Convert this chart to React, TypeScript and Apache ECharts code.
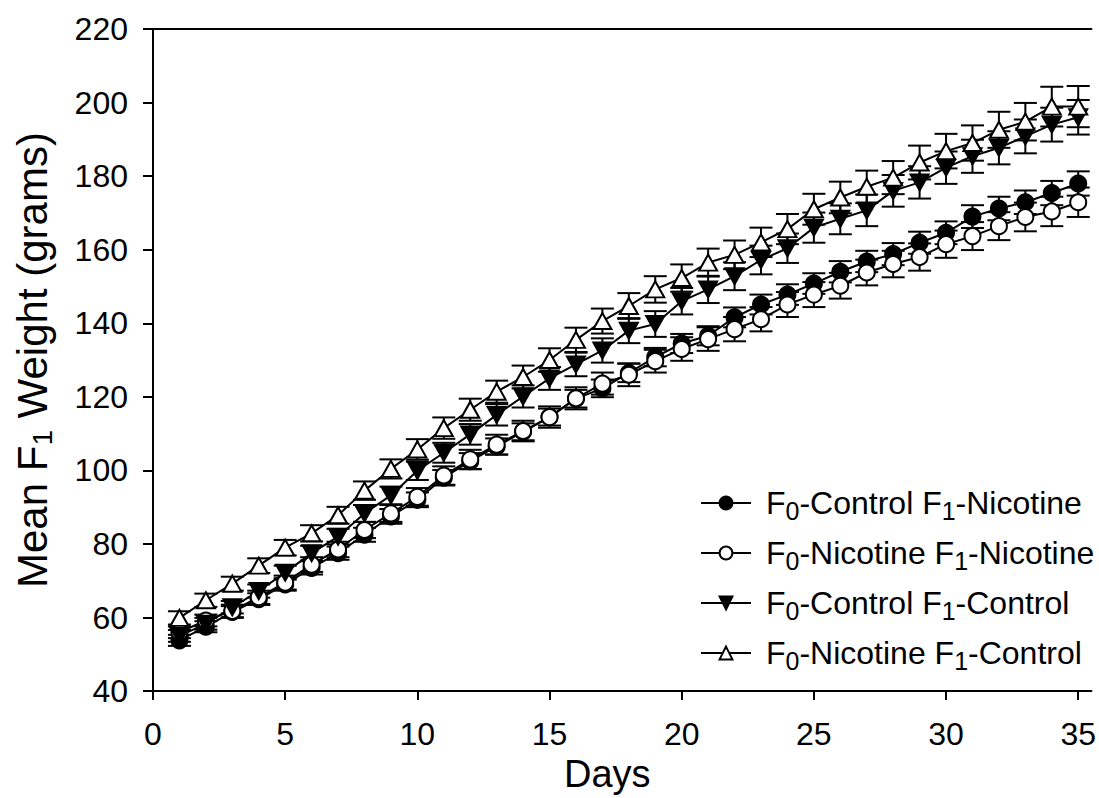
import React, { useEffect, useRef } from "react";
import * as echarts from "echarts";

const DAYS = [1,2,3,4,5,6,7,8,9,10,11,12,13,14,15,16,17,18,19,20,21,22,23,24,25,26,27,28,29,30,31,32,33,34,35];

const NAMES = [
  "F0-Control F1-Nicotine",
  "F0-Nicotine F1-Nicotine",
  "F0-Control F1-Control",
  "F0-Nicotine F1-Control",
];

// F0-Control F1-Nicotine (filled circle)
const FC = [53.8,57.5,61.5,65,69,73.5,77.5,82.5,87.5,92,98,102.5,106.5,110.5,114.5,119.5,122.3,126.5,130.8,134.5,136.6,141.6,145.1,147.8,150.8,154,156.8,158.8,161.9,164.6,169,171.2,172.9,175.4,178];
const FC_ERR = [1.5,1.5,1.6,1.6,1.7,1.8,1.8,1.9,2,2,2.1,2.2,2.2,2.3,2.3,2.4,2.4,2.5,2.5,2.6,2.6,2.7,2.7,2.8,2.8,2.9,2.9,3,3,3.1,3.1,3.2,3.2,3.3,3.3];
// F0-Nicotine F1-Nicotine (open circle)
const OC = [56,59.2,61.8,65.5,69.5,74.4,78.5,83.8,88.3,92.8,98.6,103,107,110.7,114.5,119.6,123.6,126,129.7,133,135.7,138.4,141.1,145.1,147.8,150.2,153.8,156.1,158,161.5,163.7,166.4,168.9,170.4,172.9];
const OC_ERR = [1.6,1.6,1.7,1.8,1.9,2,2.1,2.2,2.3,2.4,2.5,2.6,2.7,2.8,2.9,3,3,3.1,3.1,3.2,3.2,3.3,3.3,3.4,3.4,3.5,3.5,3.6,3.7,3.7,3.8,3.8,3.9,4,4];
// F0-Control F1-Control (filled triangle down)
const DT = [55,58.3,62.8,67.2,72.2,77.5,82,88.3,93.2,99.9,104.8,109.8,115.1,120.1,125,128.8,132.6,138,139.8,146,149.2,152.8,157.2,160.4,166,168.4,170.7,176,178.3,182.3,185.4,187.7,190.8,194,196];
const DT_ERR = [1.6,1.6,1.7,1.8,1.9,2,2.1,2.3,2.4,2.5,2.7,2.8,2.9,3,3.1,3.2,3.3,3.4,3.5,3.6,3.7,3.8,3.9,4,4.1,4.2,4.3,4.3,4.4,4.4,4.5,4.5,4.6,4.6,4.7];
// F0-Nicotine F1-Control (open triangle up)
const UT = [59.9,64.7,69.2,74.1,79,82.9,87.8,94.5,100.4,105.7,111.5,116.5,121.4,125.4,130,135.5,140.6,144.7,149.2,152.3,156.5,158.6,162,165.6,171,174.2,177.1,179.6,183.7,186.8,189,192.6,194.8,198.9,198.9];
const UT_ERR = [1.8,1.8,1.9,2,2.1,2.2,2.3,2.5,2.6,2.8,2.9,3,3,3.1,3.2,3.3,3.4,3.5,3.6,3.7,3.8,3.9,4,4.1,4.2,4.3,4.4,4.5,4.6,4.7,4.8,4.9,5.1,5.4,5.6];

const X_TICKS = [0,5,10,15,20,25,30,35];

const FONT = "'Liberation Sans', Arial, Helvetica, sans-serif";
const INK = "#000";

function errSeries(vals: number[], errs: number[]) {
  return {
    type: "custom",
    silent: true,
    data: DAYS.map((d, i) => [d, vals[i], errs[i]]),
    encode: { x: 0, y: 1 },
    renderItem: (_p: any, api: any) => {
      const x = api.value(0);
      const y = api.value(1);
      const e = api.value(2);
      const t = api.coord([x, y + e]);
      const b = api.coord([x, y - e]);
      const hw = 11.5;
      const st = { stroke: INK, lineWidth: 2 };
      return {
        type: "group",
        children: [
          { type: "line", shape: { x1: t[0], y1: t[1], x2: b[0], y2: b[1] }, style: st },
          { type: "line", shape: { x1: t[0] - hw, y1: t[1], x2: t[0] + hw, y2: t[1] }, style: st },
          { type: "line", shape: { x1: b[0] - hw, y1: b[1], x2: b[0] + hw, y2: b[1] }, style: st },
        ],
      };
    },
  };
}

function lineSeries(name: string, vals: number[], symbol: string, filled: boolean, rotate = 0, size: any = 16) {
  return {
    type: "line",
    name,
    data: DAYS.map((d, i) => [d, vals[i]]),
    symbol,
    symbolSize: size,
    symbolRotate: rotate,
    showAllSymbol: true,
    lineStyle: { color: INK, width: 2 },
    itemStyle: { color: filled ? INK : "#fff", borderColor: INK, borderWidth: 2 },
    emphasis: { disabled: true },
  };
}

export default function App() {
  const ref = useRef<HTMLDivElement>(null);
  useEffect(() => {
    if (!ref.current) return;
    const chart = echarts.init(ref.current, null, { renderer: "svg" });
    const option: any = {
      animation: false,
      backgroundColor: "#fff",
      textStyle: { fontFamily: FONT },
      grid: { left: 152, right: 2, top: 29, bottom: 98, containLabel: false },
      xAxis: [
        {
          type: "value",
          min: 0,
          max: 35.5,
          interval: 5,
          name: "Days",
          nameLocation: "middle",
          nameGap: 60,
          nameTextStyle: { fontFamily: FONT, fontSize: 38, color: INK, padding: [0, 30, 0, 0] },
          axisLine: { show: true, onZero: false, lineStyle: { color: INK, width: 2 } },
          axisTick: { show: true, length: 9, inside: false, customValues: X_TICKS, lineStyle: { color: INK, width: 2 } },
          axisLabel: { customValues: X_TICKS, fontFamily: FONT, fontSize: 32, color: INK, margin: 27 },
          splitLine: { show: false },
        },
        {
          type: "value",
          position: "top",
          min: 0,
          max: 35.5,
          axisLine: { show: true, onZero: false, lineStyle: { color: INK, width: 2 } },
          axisTick: { show: false },
          axisLabel: { show: false },
          splitLine: { show: false },
        },
      ],
      yAxis: {
        type: "value",
        min: 40,
        max: 220,
        interval: 20,
        name: "Mean F{sub|1} Weight (grams)",
        nameLocation: "middle",
        nameRotate: 90,
        nameGap: 97,
        nameTextStyle: {
          fontFamily: FONT,
          fontSize: 42,
          color: INK,
          lineHeight: 48,
          rich: { sub: { fontFamily: FONT, fontSize: 28, color: INK, lineHeight: 18, verticalAlign: "bottom" } },
        },
        axisLine: { show: true, onZero: false, lineStyle: { color: INK, width: 2 } },
        axisTick: { show: true, length: 10, inside: false, lineStyle: { color: INK, width: 2 } },
        axisLabel: { fontFamily: FONT, fontSize: 32, color: INK, margin: 25 },
        splitLine: { show: false },
      },
      legend: {
        orient: "vertical",
        left: 695,
        top: 478,
        itemWidth: 50,
        itemHeight: 16,
        itemGap: 10,
        data: NAMES,
        formatter: (n: string) => n.replace(/F([01])/g, "F{sub|$1}"),
        textStyle: {
          fontFamily: FONT,
          fontSize: 32,
          color: INK,
          lineHeight: 40,
          padding: [0, 0, 0, 10],
          rich: { sub: { fontFamily: FONT, fontSize: 25, color: INK, lineHeight: 16, verticalAlign: "bottom" } },
        },
        selectedMode: false,
      },
      series: [
        errSeries(FC, FC_ERR),
        lineSeries(NAMES[0], FC, "circle", true),
        errSeries(OC, OC_ERR),
        lineSeries(NAMES[1], OC, "circle", false),
        errSeries(DT, DT_ERR),
        lineSeries(NAMES[2], DT, "triangle", true, 180, [18, 16]),
        errSeries(UT, UT_ERR),
        lineSeries(NAMES[3], UT, "triangle", false, 0, [18, 16]),
      ],
    };
    chart.setOption(option);
    return () => chart.dispose();
  }, []);
  return (
    <div
      ref={ref}
      style={{ position: "fixed", left: 0, top: 0, width: 1099, height: 798, background: "#fff" }}
    />
  );
}
